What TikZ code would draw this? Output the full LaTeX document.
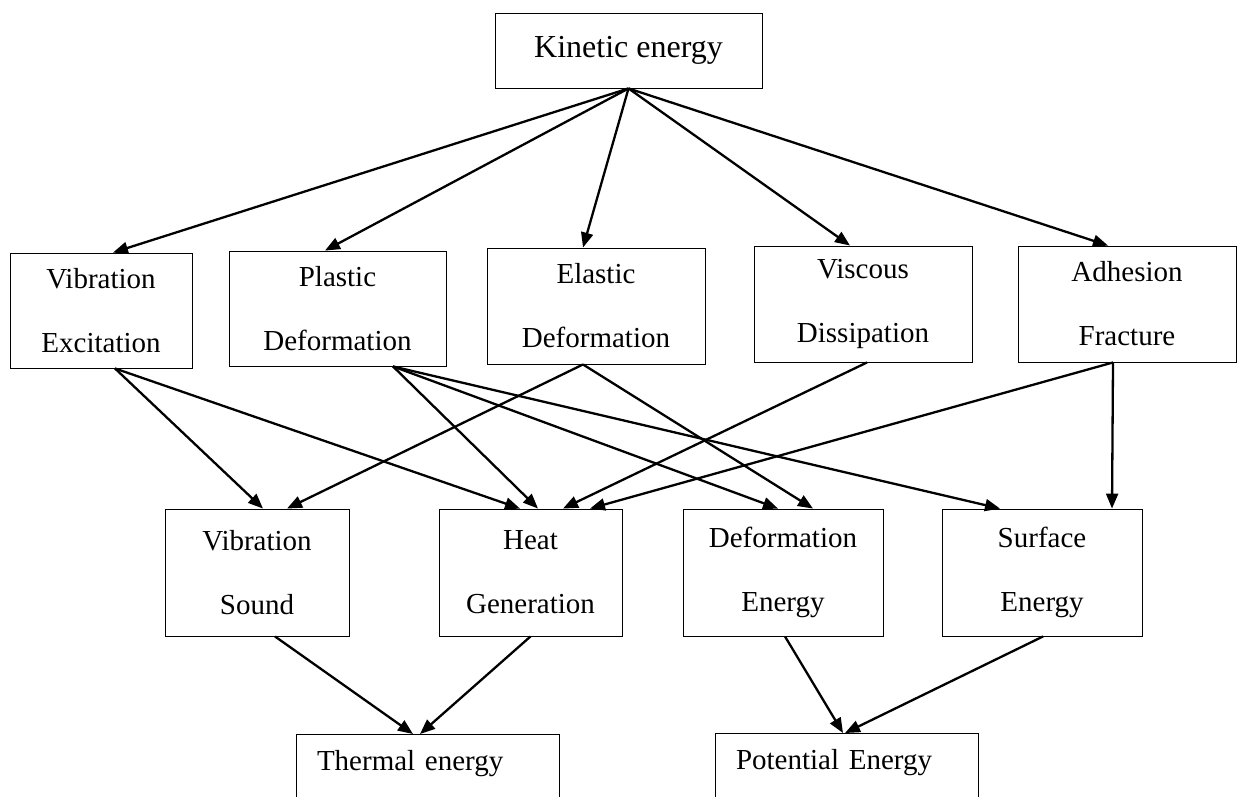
\documentclass[tikz,border=0pt]{standalone}
\usepackage{fontspec}
\setmainfont{Liberation Serif}
\usepackage{tikz}
\usetikzlibrary{arrows.meta}

\begin{document}
\begin{tikzpicture}[
  x=1pt, y=-1pt,
  box/.style={
    draw=black, line width=0.9pt, fill=white,
    align=center, inner sep=3pt,
    font=\fontsize{29}{64}\selectfont
  },
  endbox/.style={
    draw=black, line width=0.9pt, fill=white, anchor=north,
    text width=221pt, inner xsep=21pt, inner ysep=8pt, align=left,
    text height=28pt, text depth=36pt,
    font=\fontsize{29}{34}\selectfont
  },
  arrow/.style={-{Triangle[length=15pt, width=12pt]}, line width=2.3pt, black}
]

\path[use as bounding box, clip] (0,0) rectangle (1238,796);

% ---- Source ----
\node[box, minimum width=267pt, minimum height=75pt,
  font=\fontsize{32}{38}\selectfont] (ke) at (628.5, 50.5) {Kinetic energy};

% ---- Mechanisms ----
\node[box, minimum width=182pt, minimum height=115pt] (ve) at (101, 310.5) {Vibration\\Excitation};
\node[box, minimum width=217pt, minimum height=115pt] (pd) at (337.5, 308.5) {Plastic\\Deformation};
\node[box, minimum width=218pt, minimum height=116pt] (ed) at (596, 306) {Elastic\\Deformation};
\node[box, minimum width=218pt, minimum height=116pt] (vd) at (863, 304) {Viscous\\Dissipation};
\node[box, minimum width=218pt, minimum height=116pt] (af) at (1127, 304) {Adhesion\\Fracture};

% ---- Intermediate forms ----
\node[box, minimum width=184pt, minimum height=127pt] (vs) at (257, 572.5) {Vibration\\Sound};
\node[box, minimum width=183pt, minimum height=127pt] (hg) at (530.5, 572.5) {Heat\\Generation};
\node[box, minimum width=200pt, minimum height=127pt] (de) at (783, 572.5) {Deformation\\Energy};
\node[box, minimum width=200pt, minimum height=127pt] (se) at (1042, 572.5) {Surface\\Energy};

% ---- Final forms ----
\node[endbox] (te) at (427.5, 734) {Thermal energy};
\node[endbox] (pe) at (846.5, 733) {Potential Energy};

% Kinetic energy vers les mécanismes
\draw[arrow] (ke.south) -- ([xshift=12pt]ve.north);
\draw[arrow] (ke.south) -- ([xshift=-12.5pt]pd.north);
\draw[arrow] (ke.south) -- ([xshift=-13pt]ed.north);
\draw[arrow] (ke.south) -- ([xshift=-13pt]vd.north);
\draw[arrow] (ke.south) -- ([xshift=-19pt]af.north);

% Mécanismes vers les formes intermédiaires
\draw[arrow] ([xshift=14pt]ve.south) -- ([xshift=6pt]vs.north);
\draw[arrow] ([xshift=14pt]ve.south) -- ([xshift=-10.5pt]hg.north);
\draw[arrow] ([xshift=55.5pt]pd.south) -- ([xshift=7.5pt]hg.north);
\draw[arrow] ([xshift=55.5pt]pd.south) -- ([xshift=-5pt]de.north);
\draw[arrow] ([xshift=55.5pt]pd.south) -- ([xshift=-42pt]se.north);
\draw[arrow] ([xshift=-13pt]ed.south) -- ([xshift=30pt]vs.north);
\draw[arrow] ([xshift=-13pt]ed.south) -- ([xshift=30pt]de.north);
\draw[arrow] ([xshift=4pt]vd.south) -- ([xshift=32.5pt]hg.north);
\draw[arrow] ([xshift=-14pt]af.south) -- ([xshift=59.5pt]hg.north);
\draw[arrow] ([xshift=-14pt]af.south) -- ([xshift=70pt]se.north);

% Formes intermédiaires vers les formes finales
\draw[arrow] ([xshift=18pt]vs.south) -- ([xshift=-14.5pt]te.north);
\draw[arrow] (hg.south) -- ([xshift=-7.5pt]te.north);
\draw[arrow] ([xshift=2pt]de.south) -- ([xshift=-3.5pt]pe.north);
\draw[arrow] ([xshift=1pt]se.south) -- ([xshift=-1.5pt]pe.north);

\end{tikzpicture}
\end{document}
